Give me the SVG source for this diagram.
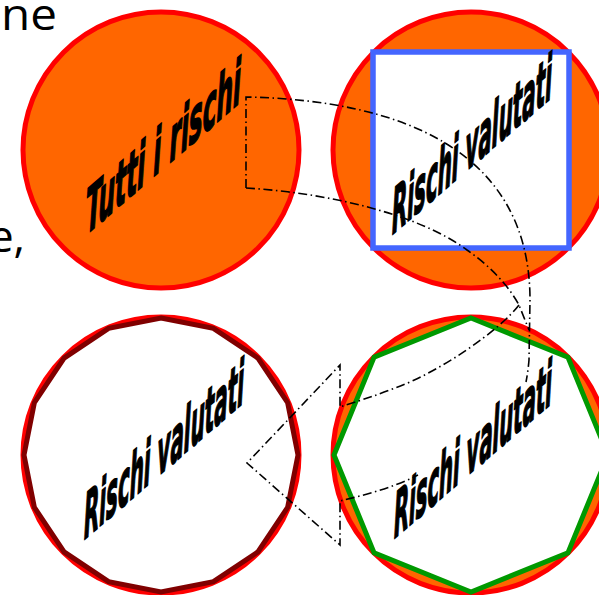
<svg xmlns="http://www.w3.org/2000/svg" width="599" height="595" viewBox="0 0 599 595">
<style>
.ring{stroke:#ff0000;stroke-width:5}
.orange{fill:#ff6600}
.white{fill:#ffffff}
.lbl{font-family:"DejaVu Sans Condensed","DejaVu Sans",sans-serif;font-weight:bold;font-style:italic;font-size:62px;fill:#000;stroke:#000;stroke-width:1.8;stroke-linejoin:round}
.slide{font-family:"Open Sans","DejaVu Sans",sans-serif;font-size:44px;fill:#000}
.dd{fill:none;stroke:#000;stroke-width:1.6;stroke-dasharray:9 3.5 1.5 3.5}
</style>
<rect width="599" height="595" fill="#ffffff"/>
<text class="slide" x="1" y="30" textLength="56" lengthAdjust="spacingAndGlyphs">ne</text>
<text class="slide" x="25" y="252" text-anchor="end">e,</text>

<g id="node-tutti">
<circle class="ring orange" cx="161" cy="150" r="138"/>
</g>
<g id="node-square">
<circle class="ring orange" cx="471" cy="150" r="138"/>
<rect x="373" y="52" width="196" height="196" fill="#ffffff" stroke="#4466ff" stroke-width="5.5"/>
</g>
<g id="node-16gon">
<circle class="ring white" cx="161" cy="455" r="138"/>
<polygon fill="#ffffff" stroke="#800000" stroke-width="5" points="161,318 213.4,328.4 257.9,358.1 287.6,402.6 298,455 287.6,507.4 257.9,551.9 213.4,581.6 161,592 108.6,581.6 64.1,551.9 34.4,507.4 24,455 34.4,402.6 64.1,358.1 108.6,328.4"/>
</g>
<g id="node-octagon">
<circle class="ring orange" cx="471" cy="455" r="138"/>
<polygon fill="#ffffff" stroke="#009900" stroke-width="5" points="471,318 567.9,357.1 608,455 567.9,552.9 471,592 374.1,552.9 334,455 374.1,357.1"/>
</g>

<g id="connectors">
<path class="dd" d="M246,188 L246,97 C400,100 530,150 530,300 L529,360 Q528,372 526,382"/>
<path class="dd" d="M246,188 C330,193 420,215 467,250 C490,266 508,285 519,305 L529,330"/>
<path class="dd" d="M519,305 C500,330 440,372 395,388 C375,396 355,402 340,407 L340,365 L247,463 L340,545 L340,501 C365,495 395,487 418,475"/>
</g>

<g id="label-tutti"><text class="lbl" transform="matrix(1,-0.86,0,1,86,235)" textLength="155" lengthAdjust="spacingAndGlyphs">Tutti i rischi</text></g>
<g id="label-square"><text class="lbl" transform="matrix(1,-0.86,0,1,392,235)" textLength="160" lengthAdjust="spacingAndGlyphs">Rischi valutati</text></g>
<g id="label-16gon"><text class="lbl" transform="matrix(1,-0.86,0,1,84,540)" textLength="160" lengthAdjust="spacingAndGlyphs">Rischi valutati</text></g>
<g id="label-octagon"><text class="lbl" transform="matrix(1,-0.86,0,1,394,539)" textLength="158" lengthAdjust="spacingAndGlyphs">Rischi valutati</text></g>
</svg>
